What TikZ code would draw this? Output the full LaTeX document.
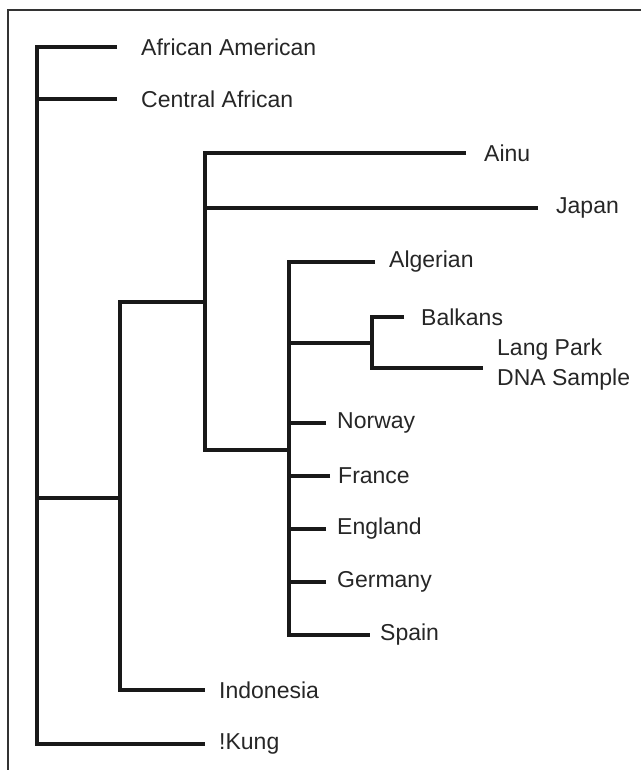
\documentclass[tikz,border=0pt]{standalone}
\usepackage{fontspec}
\setmainfont{Liberation Sans}
\usetikzlibrary{positioning}

\begin{document}
\begin{tikzpicture}[
x=1pt,y=-1pt,
node distance=14pt,
every node/.style={inner sep=0pt,text=black!85,
font=\fontsize{23}{30}\selectfont},
branch/.style={line width=3.4pt,black!90}]

\useasboundingbox (0,0) rectangle (641,770);
\draw[line width=2.6pt,black!80] (8,770) -- (8,10) -- (641,10);

% inner junctions
\coordinate (r0) at (37,498);
\coordinate (n1) at (120,498);
\coordinate (n2) at (205,302);
\coordinate (n3) at (289,450);
\coordinate (n4) at (372,343);

% branch tips
\coordinate (t-aa) at (117,47);
\coordinate (t-ca) at (117,99);
\coordinate (t-ainu) at (466,153);
\coordinate (t-jap) at (538,208);
\coordinate (t-alg) at (375,262);
\coordinate (t-balk) at (404,317);
\coordinate (t-lang) at (483,368);
\coordinate (t-nor) at (326,423);
\coordinate (t-fra) at (330,476);
\coordinate (t-eng) at (326,529);
\coordinate (t-ger) at (326,582);
\coordinate (t-spa) at (370,635);
\coordinate (t-indo) at (205,690);
\coordinate (t-kung) at (205,744);

\node (aa) [right=24pt of t-aa] {African American};
\node (ca) [right=24pt of t-ca] {Central African};
\node (ainu) [right=18pt of t-ainu] {Ainu};
\node (jap) [right=18pt of t-jap] {Japan};
\node (alg) [right=of t-alg] {Algerian};
\node (balk) [right=17pt of t-balk] {Balkans};
\node (lang) [right=of t-lang,align=left,yshift=3pt] {Lang Park\\DNA Sample};
\node (nor) [right=11pt of t-nor] {Norway};
\node (fra) [right=8pt of t-fra] {France};
\node (eng) [right=11pt of t-eng] {England};
\node (ger) [right=11pt of t-ger] {Germany};
\node (spa) [right=10pt of t-spa] {Spain};
\node (indo) [right=of t-indo] {Indonesia};
\node (kung) [right=of t-kung] {!Kung};

\draw[branch] (t-aa) -| (r0) |- (t-kung);
\draw[branch] (t-ca) -- (t-ca -| r0);
\draw[branch] (r0) -- (n1);

\draw[branch] (n2) -| (n1) |- (t-indo);

\draw[branch] (t-ainu) -| (n2) |- (n3);
\draw[branch] (t-jap) -- (t-jap -| n2);

\draw[branch] (t-alg) -| (n3) |- (t-spa);
\draw[branch] (n4) -- (n4 -| n3);
\draw[branch] (t-nor) -- (t-nor -| n3);
\draw[branch] (t-fra) -- (t-fra -| n3);
\draw[branch] (t-eng) -- (t-eng -| n3);
\draw[branch] (t-ger) -- (t-ger -| n3);

\draw[branch] (t-balk) -| (n4) |- (t-lang);

\end{tikzpicture}
\end{document}
